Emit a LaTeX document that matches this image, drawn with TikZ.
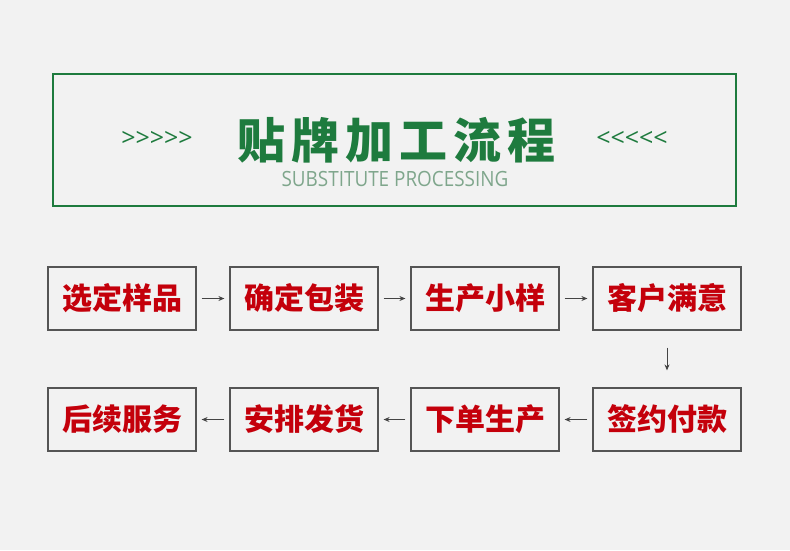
\documentclass[tikz,border=0pt]{standalone}
\usepackage{fontspec}
\usetikzlibrary{arrows.meta}
\newfontfamily\cjk{Noto Sans CJK SC}
\newfontfamily\latn{Open Sans}
\definecolor{bg}{HTML}{F2F2F2}
\definecolor{hgreen}{HTML}{1E7B3E}
\definecolor{lgreen}{HTML}{7FA68C}
\definecolor{tred}{HTML}{C4000B}
\definecolor{bgray}{HTML}{555555}
\tikzset{
  stepbox/.style={draw=bgray,line width=1.2pt,fill=bg,minimum width=148pt,minimum height=63pt,inner sep=0pt,
    font=\cjk\bfseries\fontsize{30}{32}\selectfont,text=tred},
  flow/.style={draw=bgray!80!black,line width=0.9pt,-{Stealth[length=6pt,width=5pt]}}
}
\begin{document}
\begin{tikzpicture}[x=1pt,y=-1pt]
\fill[bg] (0,0) rectangle (790,550);
\useasboundingbox (0,0) rectangle (790,550);
\draw[hgreen,line width=2pt] (53,74) rectangle (736,206);
\node[text=hgreen,font=\cjk\bfseries\fontsize{48}{50}\selectfont,inner sep=0pt] (title) at (396,140)
  {贴\kern6pt 牌\kern6pt 加\kern6pt 工\kern6pt 流\kern6pt 程};
\node[text=lgreen,font=\latn\fontsize{21}{22}\selectfont,inner sep=0pt,xscale=0.9] (sub) at (395,179) {SUBSTITUTE PROCESSING};
\node[text=hgreen,font=\latn\fontsize{25}{26}\selectfont,inner sep=0pt] (gl) at (157,139) {>{}>{}>{}>{}>};
\node[text=hgreen,font=\latn\fontsize{25}{26}\selectfont,inner sep=0pt] (gr) at (632,139) {<{}<{}<{}<{}<};
\node[stepbox] (a1) at (122,298.5) {选定样品};
\node[stepbox] (a2) at (304,298.5) {确定包装};
\node[stepbox] (a3) at (485,298.5) {生产小样};
\node[stepbox] (a4) at (667,298.5) {客户满意};
\node[stepbox] (b4) at (667,419.5) {签约付款};
\node[stepbox] (b3) at (485,419.5) {下单生产};
\node[stepbox] (b2) at (304,419.5) {安排发货};
\node[stepbox] (b1) at (122,419.5) {后续服务};
\draw[flow] ([xshift=5pt]a1.east) -- ([xshift=-5pt]a2.west);
\draw[flow] ([xshift=5pt]a2.east) -- ([xshift=-5pt]a3.west);
\draw[flow] ([xshift=5pt]a3.east) -- ([xshift=-5pt]a4.west);
\draw[flow] ([yshift=-17pt]a4.south) -- ([yshift=17pt]b4.north);
\draw[flow] ([xshift=-5pt]b4.west) -- ([xshift=5pt]b3.east);
\draw[flow] ([xshift=-5pt]b3.west) -- ([xshift=5pt]b2.east);
\draw[flow] ([xshift=-5pt]b2.west) -- ([xshift=5pt]b1.east);
\end{tikzpicture}
\end{document}
